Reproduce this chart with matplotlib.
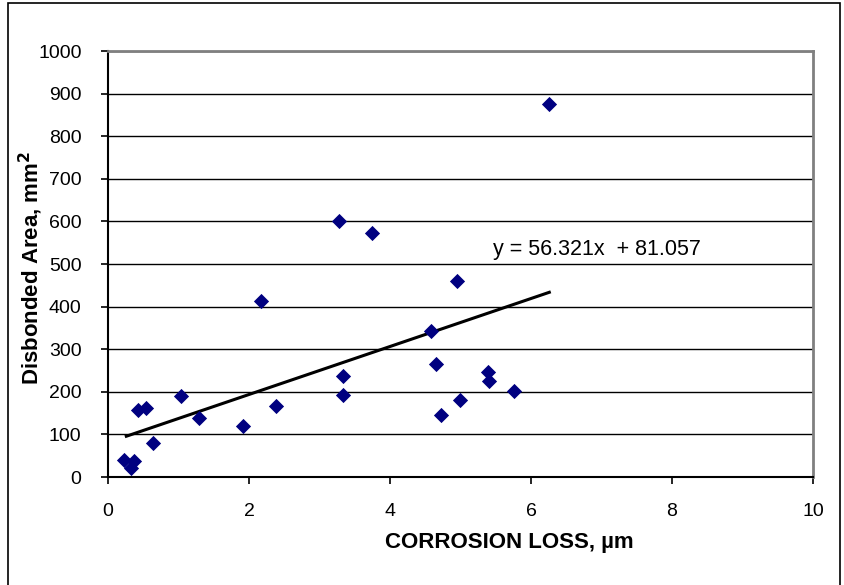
import numpy as np
from matplotlib import pyplot as plt
from matplotlib.patches import Rectangle

# corrosion loss (um) vs disbonded area (mm2)
loss = [0.22, 0.33, 0.37, 0.43, 0.54, 0.64, 1.04, 1.29, 1.92, 2.17, 2.39,
        3.27, 3.34, 3.34, 3.75, 4.58, 4.65, 4.72, 4.95, 5.00, 5.39, 5.41,
        5.76, 6.26]
area = [40, 21, 38, 157, 162, 80, 190, 138, 120, 413, 167,
        601, 237, 192, 573, 343, 265, 146, 460, 181, 246, 225,
        202, 876]
slope, intercept = 56.321, 81.057
trend_x = [0.26, 6.26]

plt.rcParams['font.family'] = ['Liberation Sans', 'DejaVu Sans']

fig = plt.figure(figsize=(8.45, 5.85), dpi=100)
ax = fig.add_axes([0.1278, 0.1846, 0.8343, 0.7282])

# outer chart border
fig.patches.append(Rectangle((0.0095, -0.01), 0.985, 1.005, transform=fig.transFigure,
                             fill=False, edgecolor='black', linewidth=1.2))

ax.scatter(loss, area, marker='D', s=60, color='#000080', linewidths=0, zorder=3)
tx = np.array(trend_x)
ax.plot(tx, slope * tx + intercept, color='black', linewidth=2.2, zorder=2)
ax.text(5.46, 533, 'y = 56.321x  + 81.057', fontsize=15.5, va='center')

ax.set_xlim(0, 10)
ax.set_ylim(0, 1000)
ax.set_xticks(range(0, 11, 2))
ax.set_yticks(range(0, 1001, 100))
ax.yaxis.grid(True, color='black', linewidth=1)
ax.set_axisbelow(True)
ax.tick_params(labelsize=14, direction='out', length=5, width=1.2, color='black', pad=14)
for s in ['left', 'bottom']:
    ax.spines[s].set_linewidth(1.5)
for s in ['top', 'right']:
    ax.spines[s].set_color('#808080')
    ax.spines[s].set_linewidth(2)

ax.set_xlabel('CORROSION LOSS, µm', fontsize=16, fontweight='bold')
ax.xaxis.set_label_coords(0.569, -0.129)
ax.set_ylabel('Disbonded Area, mm$^\\mathbf{2}$', fontsize=16, fontweight='bold')
ax.yaxis.set_label_coords(-0.089, 0.49)

fig.savefig('out.png', dpi=100)
